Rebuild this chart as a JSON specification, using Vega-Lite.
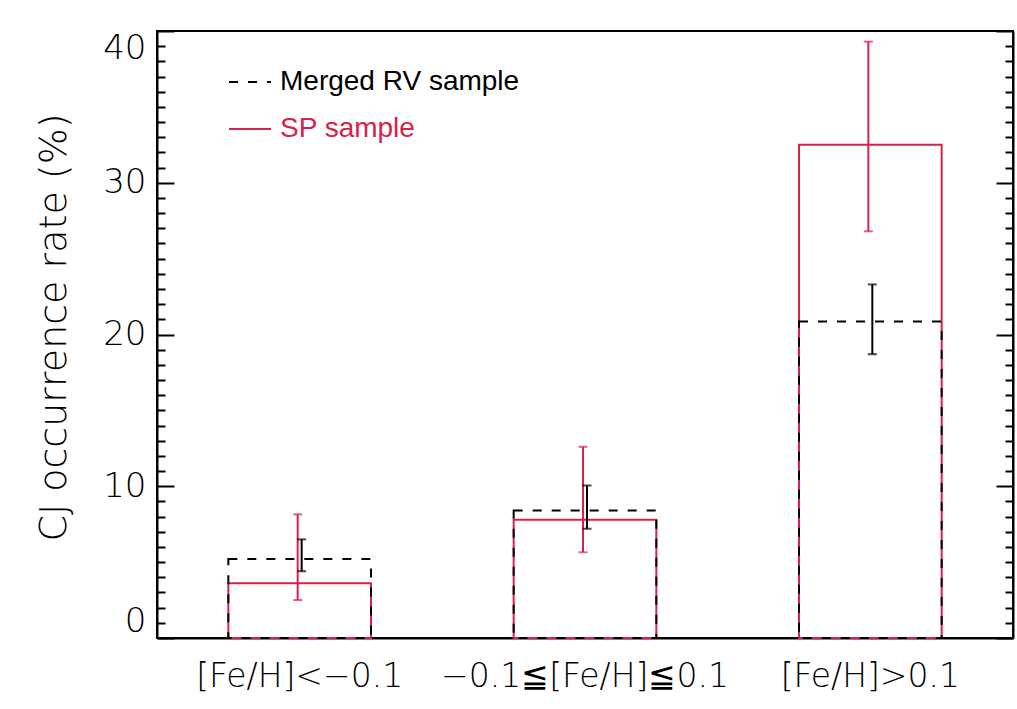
{
  "$schema": "https://vega.github.io/schema/vega-lite/v6.json",
  "width": 856,
  "height": 607,
  "autosize": {"type": "none"},
  "padding": {"left": 157, "top": 31, "right": 4, "bottom": 71},
  "background": "white",
  "config": {
    "view": {"stroke": "black", "strokeWidth": 2},
    "axis": {"grid": false}
  },
  "data": {
    "values": [
      {"cat": "[Fe/H]<−0.1", "sample": "SP sample", "rate": 3.6, "lo": 2.5, "hi": 8.15},
      {"cat": "−0.1≦[Fe/H]≦0.1", "sample": "SP sample", "rate": 7.8, "lo": 5.65, "hi": 12.6},
      {"cat": "[Fe/H]>0.1", "sample": "SP sample", "rate": 32.5, "lo": 26.8, "hi": 39.3},
      {"cat": "[Fe/H]<−0.1", "sample": "Merged RV sample", "rate": 5.2, "lo": 4.4, "hi": 6.5},
      {"cat": "−0.1≦[Fe/H]≦0.1", "sample": "Merged RV sample", "rate": 8.4, "lo": 7.2, "hi": 10.05},
      {"cat": "[Fe/H]>0.1", "sample": "Merged RV sample", "rate": 20.85, "lo": 18.7, "hi": 23.3}
    ]
  },
  "layer": [
    {
      "transform": [{"filter": "datum.sample === 'SP sample'"}],
      "mark": {"type": "bar", "fill": null, "fillOpacity": 0, "strokeWidth": 2},
      "encoding": {
        "x": {
          "field": "cat", "type": "nominal",
          "sort": ["[Fe/H]<−0.1", "−0.1≦[Fe/H]≦0.1", "[Fe/H]>0.1"],
          "scale": {"paddingInner": 0.5, "paddingOuter": 0.25},
          "axis": {
            "title": null, "labelAngle": 0, "ticks": false,
            "domainColor": "black", "domainWidth": 2,
            "labelFont": "DejaVu Sans", "labelFontSize": 33, "labelFontWeight": 300, "labelColor": "black",
            "labelPadding": 38, "labelBaseline": "middle", "labelLimit": 0
          }
        },
        "y": {
          "field": "rate", "type": "quantitative", "stack": null,
          "scale": {"domain": [0, 40], "nice": false, "zero": true},
          "axis": {
            "orient": "left",
            "values": [0,1,2,3,4,5,6,7,8,9,10,11,12,13,14,15,16,17,18,19,20,21,22,23,24,25,26,27,28,29,30,31,32,33,34,35,36,37,38,39,40],
            "labelExpr": "datum.value % 10 === 0 ? datum.label : ''",
            "tickSize": {"condition": {"test": "datum.value % 10 === 0", "value": -17}, "value": -8},
            "tickWidth": 2, "tickColor": "black",
            "domainColor": "black", "domainWidth": 2,
            "labelFont": "DejaVu Sans", "labelFontSize": 34, "labelFontWeight": 300, "labelColor": "black",
            "labelPadding": 28, "labelFlush": true, "labelOverlap": false,
            "title": "CJ occurrence rate (%)",
            "titleFont": "DejaVu Sans", "titleFontSize": 38, "titleFontWeight": 300, "titleColor": "black",
            "titleAngle": -90, "titleAlign": "center", "titleBaseline": "middle",
            "titleX": -103, "titleY": 296
          }
        },
        "stroke": {
          "field": "sample", "type": "nominal",
          "scale": {"domain": ["Merged RV sample", "SP sample"], "range": ["black", "#d8214a"]},
          "legend": {
            "title": null, "orient": "none", "legendX": 71, "legendY": 29,
            "padding": 0, "symbolType": "stroke", "symbolSize": 1764, "symbolStrokeWidth": 2,
            "labelFont": "Liberation Sans", "labelFontSize": 28, "labelOffset": 8, "rowPadding": 11,
            "labelLimit": 0,
            "labelColor": {"expr": "datum.label === 'SP sample' ? '#d8214a' : 'black'"}
          }
        },
        "strokeDash": {
          "field": "sample", "type": "nominal",
          "scale": {"domain": ["Merged RV sample", "SP sample"], "range": [[9, 10], [1, 0]]},
          "legend": {
            "title": null, "orient": "none", "legendX": 71, "legendY": 29,
            "padding": 0, "symbolType": "stroke", "symbolSize": 1764, "symbolStrokeWidth": 2,
            "labelFont": "Liberation Sans", "labelFontSize": 28, "labelOffset": 8, "rowPadding": 11,
            "labelLimit": 0,
            "labelColor": {"expr": "datum.label === 'SP sample' ? '#d8214a' : 'black'"}
          }
        }
      }
    },
    {
      "transform": [{"filter": "datum.sample === 'Merged RV sample'"}],
      "mark": {"type": "bar", "fill": null, "fillOpacity": 0, "strokeWidth": 2},
      "encoding": {
        "x": {"field": "cat", "type": "nominal", "sort": ["[Fe/H]<−0.1", "−0.1≦[Fe/H]≦0.1", "[Fe/H]>0.1"]},
        "y": {"field": "rate", "type": "quantitative", "stack": null,
          "axis": {
            "orient": "right",
            "values": [0,1,2,3,4,5,6,7,8,9,10,11,12,13,14,15,16,17,18,19,20,21,22,23,24,25,26,27,28,29,30,31,32,33,34,35,36,37,38,39,40],
            "labels": false, "title": null,
            "tickSize": {"condition": {"test": "datum.value % 10 === 0", "value": -17}, "value": -8},
            "tickWidth": 2, "tickColor": "black",
            "domainColor": "black", "domainWidth": 2
          }
        },
        "stroke": {"field": "sample", "type": "nominal"},
        "strokeDash": {"field": "sample", "type": "nominal"}
      }
    },
    {
      "transform": [{"filter": "datum.sample === 'SP sample'"}],
      "mark": {"type": "rule", "stroke": "#d8214a", "strokeWidth": 2, "xOffset": -2},
      "encoding": {
        "x": {"field": "cat", "type": "nominal", "sort": ["[Fe/H]<−0.1", "−0.1≦[Fe/H]≦0.1", "[Fe/H]>0.1"]},
        "y": {"field": "lo", "type": "quantitative", "axis": null},
        "y2": {"field": "hi"}
      }
    },
    {
      "transform": [{"filter": "datum.sample === 'SP sample'"}],
      "mark": {"type": "tick", "color": "#d8214a", "size": 9, "thickness": 2, "xOffset": -2, "orient": "horizontal"},
      "encoding": {
        "x": {"field": "cat", "type": "nominal", "sort": ["[Fe/H]<−0.1", "−0.1≦[Fe/H]≦0.1", "[Fe/H]>0.1"]},
        "y": {"field": "lo", "type": "quantitative", "axis": null}
      }
    },
    {
      "transform": [{"filter": "datum.sample === 'SP sample'"}],
      "mark": {"type": "tick", "color": "#d8214a", "size": 9, "thickness": 2, "xOffset": -2, "orient": "horizontal"},
      "encoding": {
        "x": {"field": "cat", "type": "nominal", "sort": ["[Fe/H]<−0.1", "−0.1≦[Fe/H]≦0.1", "[Fe/H]>0.1"]},
        "y": {"field": "hi", "type": "quantitative", "axis": null}
      }
    },
    {
      "transform": [{"filter": "datum.sample === 'Merged RV sample'"}],
      "mark": {"type": "rule", "stroke": "black", "strokeWidth": 2, "xOffset": 2},
      "encoding": {
        "x": {"field": "cat", "type": "nominal", "sort": ["[Fe/H]<−0.1", "−0.1≦[Fe/H]≦0.1", "[Fe/H]>0.1"]},
        "y": {"field": "lo", "type": "quantitative", "axis": null},
        "y2": {"field": "hi"}
      }
    },
    {
      "transform": [{"filter": "datum.sample === 'Merged RV sample'"}],
      "mark": {"type": "tick", "color": "black", "size": 9, "thickness": 2, "xOffset": 2, "orient": "horizontal"},
      "encoding": {
        "x": {"field": "cat", "type": "nominal", "sort": ["[Fe/H]<−0.1", "−0.1≦[Fe/H]≦0.1", "[Fe/H]>0.1"]},
        "y": {"field": "lo", "type": "quantitative", "axis": null}
      }
    },
    {
      "transform": [{"filter": "datum.sample === 'Merged RV sample'"}],
      "mark": {"type": "tick", "color": "black", "size": 9, "thickness": 2, "xOffset": 2, "orient": "horizontal"},
      "encoding": {
        "x": {"field": "cat", "type": "nominal", "sort": ["[Fe/H]<−0.1", "−0.1≦[Fe/H]≦0.1", "[Fe/H]>0.1"]},
        "y": {"field": "hi", "type": "quantitative", "axis": null}
      }
    }
  ],
  "resolve": {"axis": {"y": "independent"}}
}
